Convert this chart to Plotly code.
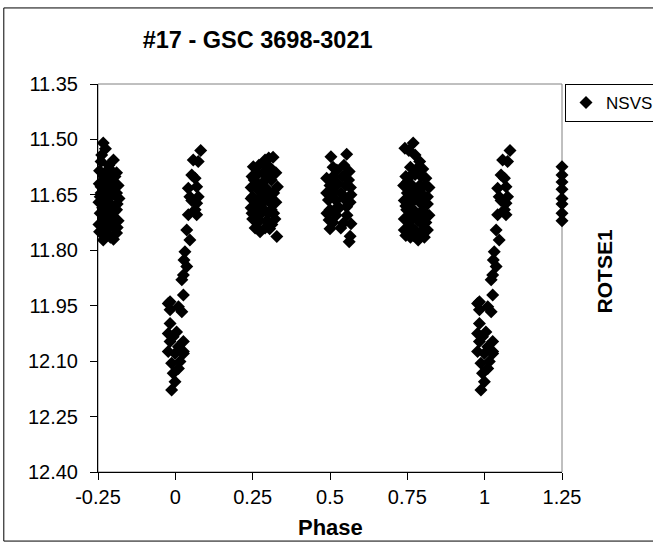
import plotly.graph_objects as go

# ---- data (phase, magnitude) ----
# cluster near phase -0.25 .. -0.18
phase_a = [-0.233, -0.238, -0.200, -0.240, -0.215, -0.245, -0.228, -0.190, -0.246, -0.225,
           -0.205, -0.185, -0.220, -0.240, -0.218, -0.198, -0.182, -0.247, -0.230, -0.210,
           -0.190, -0.235, -0.205, -0.243, -0.222, -0.200, -0.185, -0.238, -0.215, -0.195,
           -0.245, -0.228, -0.190, -0.233, -0.210, -0.200,
           -0.226, -0.212, -0.232, -0.195, -0.213, -0.243, -0.188, -0.228, -0.196, -0.212,
           -0.232, -0.247, -0.200, -0.225, -0.188, -0.218, -0.205, -0.240, -0.190, -0.220]
mag_a = [11.510, 11.542, 11.556, 11.560, 11.570, 11.585, 11.590, 11.590, 11.620, 11.610,
         11.615, 11.625, 11.625, 11.645, 11.640, 11.650, 11.660, 11.670, 11.665, 11.675,
         11.690, 11.685, 11.685, 11.700, 11.695, 11.710, 11.720, 11.725, 11.730, 11.740,
         11.750, 11.745, 11.753, 11.772, 11.765, 11.770,
         11.525, 11.580, 11.600, 11.600, 11.655, 11.655, 11.675, 11.680, 11.695, 11.710,
         11.712, 11.730, 11.728, 11.758, 11.738, 11.600, 11.640, 11.628, 11.645, 11.745]

# primary eclipse branch, phase -0.03 .. 0.09
phase_ecl = [0.082, 0.058, 0.074, 0.053, 0.064, 0.042, 0.069, 0.047, 0.074, 0.069,
             0.053, 0.064, 0.042, 0.069, 0.037, 0.047, 0.031, 0.028, 0.037, 0.026,
             0.021, 0.026, -0.017, 0.010, -0.023, 0.021, -0.017, -0.017, -0.023, 0.004,
             -0.007, 0.026, -0.017, 0.010, 0.026, -0.023, -0.001, 0.026, 0.015, -0.012,
             0.010, -0.007, -0.001, -0.012]
mag_ecl = [11.530, 11.556, 11.560, 11.596, 11.605, 11.632, 11.628, 11.655, 11.655, 11.673,
           11.665, 11.690, 11.704, 11.704, 11.745, 11.772, 11.804, 11.826, 11.844, 11.867,
           11.880, 11.921, 11.939, 11.953, 11.944, 11.966, 11.961, 11.998, 12.025, 12.021,
           12.034, 12.047, 12.047, 12.061, 12.074, 12.074, 12.079, 12.079, 12.101, 12.106,
           12.120, 12.133, 12.156, 12.178]

# cluster near phase 0.25 .. 0.33
phase_c = [0.316, 0.290, 0.302, 0.252, 0.270, 0.305, 0.325, 0.248, 0.265, 0.285,
           0.310, 0.330, 0.245, 0.260, 0.280, 0.297, 0.318, 0.250, 0.270, 0.290,
           0.305, 0.325, 0.245, 0.262, 0.280, 0.300, 0.318, 0.250, 0.272, 0.295,
           0.312, 0.258, 0.274, 0.328, 0.305,
           0.285, 0.295, 0.255, 0.272, 0.305, 0.285, 0.260, 0.310, 0.290, 0.245,
           0.322, 0.300, 0.265, 0.278, 0.248]
mag_c = [11.548, 11.556, 11.550, 11.574, 11.570, 11.575, 11.590, 11.600, 11.595, 11.590,
         11.610, 11.628, 11.630, 11.625, 11.620, 11.635, 11.645, 11.655, 11.660, 11.655,
         11.670, 11.670, 11.685, 11.690, 11.685, 11.700, 11.700, 11.715, 11.720, 11.720,
         11.730, 11.740, 11.750, 11.763, 11.742,
         11.565, 11.605, 11.610, 11.640, 11.655, 11.670, 11.705, 11.690, 11.740, 11.660,
         11.715, 11.590, 11.675, 11.700, 11.700]

# cluster near phase 0.49 .. 0.57
phase_d = [0.503, 0.554, 0.522, 0.562, 0.489, 0.510, 0.540, 0.500, 0.525, 0.550,
           0.566, 0.489, 0.512, 0.535, 0.568, 0.495, 0.520, 0.554, 0.530, 0.500,
           0.497, 0.543, 0.568, 0.500, 0.565, 0.562, 0.520, 0.555, 0.535,
           0.510, 0.545, 0.560, 0.505, 0.545, 0.565, 0.515, 0.490, 0.510]
mag_d = [11.547, 11.540, 11.583, 11.587, 11.605, 11.600, 11.600, 11.625, 11.620, 11.625,
         11.630, 11.645, 11.640, 11.645, 11.650, 11.664, 11.665, 11.682, 11.685, 11.690,
         11.718, 11.727, 11.728, 11.742, 11.762, 11.777, 11.705, 11.705, 11.740,
         11.575, 11.570, 11.610, 11.655, 11.660, 11.670, 11.690, 11.700, 11.725]

# cluster near phase 0.74 .. 0.82
phase_e = [0.742, 0.769, 0.775, 0.790, 0.760, 0.800, 0.745, 0.775, 0.810, 0.738,
           0.760, 0.790, 0.820, 0.750, 0.775, 0.800, 0.740, 0.765, 0.790, 0.815,
           0.748, 0.775, 0.800, 0.820, 0.740, 0.762, 0.785, 0.810, 0.750, 0.775,
           0.800, 0.760, 0.785, 0.805, 0.745,
           0.755, 0.785, 0.765, 0.795, 0.750, 0.805, 0.770, 0.790, 0.815, 0.755,
           0.780, 0.800, 0.745, 0.765, 0.790, 0.810, 0.755, 0.775, 0.800, 0.765,
           0.790, 0.770, 0.815, 0.740]
mag_e = [11.524, 11.510, 11.542, 11.560, 11.575, 11.580, 11.600, 11.595, 11.605, 11.625,
         11.620, 11.625, 11.630, 11.645, 11.645, 11.650, 11.665, 11.670, 11.670, 11.675,
         11.690, 11.695, 11.695, 11.705, 11.715, 11.720, 11.720, 11.725, 11.740, 11.745,
         11.745, 11.765, 11.772, 11.765, 11.760,
         11.530, 11.575, 11.595, 11.600, 11.615, 11.625, 11.635, 11.645, 11.655, 11.660,
         11.660, 11.675, 11.680, 11.695, 11.700, 11.710, 11.705, 11.710, 11.730, 11.740,
         11.755, 11.760, 11.745, 11.745]

# points at phase 1.25
phase_g = [1.25, 1.25, 1.25, 1.25, 1.25, 1.25, 1.25, 1.25]
mag_g = [11.574, 11.596, 11.615, 11.635, 11.660, 11.675, 11.700, 11.720]

# eclipse branch repeated one cycle later (phase + 1)
phase_f = [p + 1 for p in phase_ecl]
mag_f = list(mag_ecl)

x_ticks = [-0.25, 0, 0.25, 0.5, 0.75, 1, 1.25]
x_ticktext = ["-0.25", "0", "0.25", "0.5", "0.75", "1", "1.25"]
y_ticks = [11.35, 11.50, 11.65, 11.80, 11.95, 12.10, 12.25, 12.40]
y_ticktext = ["11.35", "11.50", "11.65", "11.80", "11.95", "12.10", "12.25", "12.40"]

phase = phase_a + phase_ecl + phase_c + phase_d + phase_e + phase_f + phase_g
mag = mag_a + mag_ecl + mag_c + mag_d + mag_e + mag_f + mag_g

FONT = "Liberation Sans, Arial, sans-serif"

fig = go.Figure()
fig.add_trace(go.Scatter(
    x=phase, y=mag, mode="markers", name="NSVS",
    marker=dict(symbol="diamond", size=10, color="black", line=dict(width=0)),
    cliponaxis=False,
))

fig.update_layout(
    width=653, height=546,
    margin=dict(l=98, r=91, t=84, b=74, autoexpand=False),
    paper_bgcolor="white", plot_bgcolor="white",
    font=dict(family=FONT, color="black", size=20),
    title=dict(text="<b>#17 - GSC 3698-3021</b>", x=0.344, xref="paper", xanchor="center",
               y=0.9267, yref="container", yanchor="middle", font=dict(size=23.5)),
    showlegend=True,
    legend=dict(x=1.0065, y=1, xanchor="left", yanchor="top", bordercolor="black",
                borderwidth=1, font=dict(size=17), itemwidth=30,
                tracegroupgap=0),
    shapes=[
        dict(type="rect", xref="paper", yref="paper", x0=0, x1=1, y0=0, y1=1,
             line=dict(color="#808080", width=1), layer="below"),
        dict(type="rect", xref="paper", yref="paper", x0=-0.203, x1=1.25, y0=-0.178, y1=1.196,
             line=dict(color="black", width=1), layer="below"),
    ],
    annotations=[
        dict(text="<b>Phase</b>", xref="paper", yref="paper", x=0.5, y=-0.142,
             xanchor="center", yanchor="middle", showarrow=False, font=dict(size=22)),
        dict(text="<b>ROTSE1</b>", xref="paper", yref="paper", x=1.0905, y=0.517,
             xanchor="center", yanchor="middle", textangle=-90, showarrow=False,
             font=dict(size=21)),
    ],
)

fig.update_xaxes(range=[-0.25, 1.25], tickvals=x_ticks, ticktext=x_ticktext,
                 showgrid=False, zeroline=False, showline=True, linecolor="black",
                 linewidth=1, ticks="outside", ticklen=7, tickcolor="black")
fig.update_yaxes(range=[12.40, 11.35], tickvals=y_ticks, ticktext=y_ticktext,
                 showgrid=False, zeroline=False, showline=True, linecolor="black",
                 linewidth=1, ticks="outside", ticklen=7, tickcolor="black",
                 ticklabelstandoff=8)

fig.write_html("out.html")
